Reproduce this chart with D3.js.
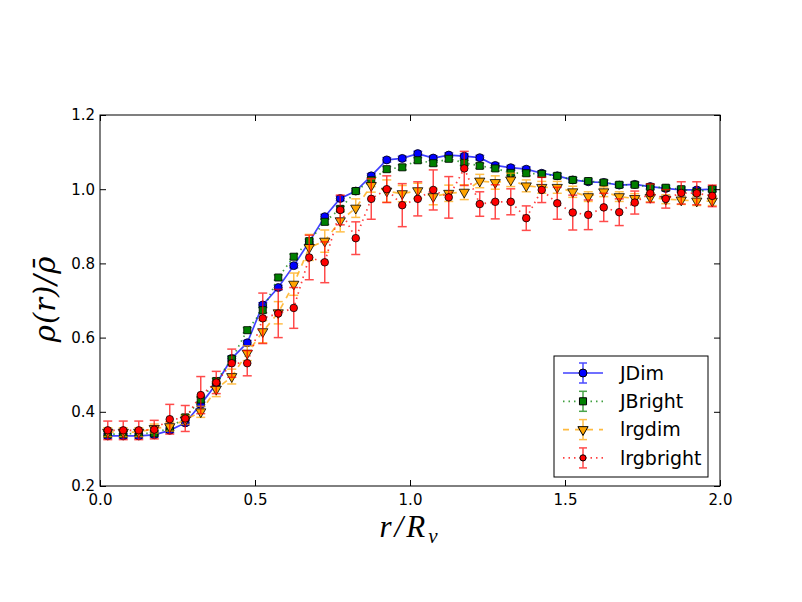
<!DOCTYPE html>
<html>
  <script src="https://cdnjs.cloudflare.com/ajax/libs/d3/7.8.5/d3.min.js"></script>
  <style>
    body { margin: 0; background: #fff; }
  </style>
  <body>
    <script>
var width = 802;
var height = 602;

// radial bins r/Rv
var rVals = [0.025, 0.075, 0.125, 0.175, 0.225, 0.275, 0.325, 0.375, 0.425, 0.475,
  0.525, 0.575, 0.625, 0.675, 0.725, 0.775, 0.825, 0.875, 0.925, 0.975,
  1.025, 1.075, 1.125, 1.175, 1.225, 1.275, 1.325, 1.375, 1.425, 1.475,
  1.525, 1.575, 1.625, 1.675, 1.725, 1.775, 1.825, 1.875, 1.925, 1.975];

var jDim = [0.335, 0.335, 0.335, 0.338, 0.350, 0.370, 0.420, 0.475, 0.544, 0.586,
  0.688, 0.735, 0.794, 0.858, 0.926, 0.975, 0.995, 1.036, 1.079, 1.083,
  1.096, 1.084, 1.092, 1.089, 1.085, 1.064, 1.058, 1.054, 1.043, 1.036,
  1.025, 1.020, 1.018, 1.011, 1.013, 1.007, 1.002, 0.998, 0.998, 1.000];
var jDimErr = [0.006, 0.006, 0.006, 0.006, 0.006, 0.006, 0.006, 0.006, 0.006, 0.006,
  0.006, 0.006, 0.006, 0.006, 0.006, 0.006, 0.006, 0.006, 0.006, 0.006,
  0.006, 0.006, 0.006, 0.006, 0.006, 0.006, 0.006, 0.006, 0.006, 0.006,
  0.006, 0.006, 0.006, 0.006, 0.006, 0.006, 0.006, 0.006, 0.006, 0.006];

var jBright = [0.340, 0.340, 0.342, 0.342, 0.357, 0.385, 0.433, 0.483, 0.542, 0.620,
  0.674, 0.762, 0.818, 0.860, 0.912, 0.947, 0.995, 1.024, 1.054, 1.059,
  1.078, 1.070, 1.082, 1.071, 1.063, 1.056, 1.044, 1.043, 1.041, 1.036,
  1.025, 1.022, 1.018, 1.012, 1.012, 1.006, 1.004, 1.000, 0.993, 1.000];
var jBrightErr = [0.007, 0.007, 0.007, 0.007, 0.007, 0.007, 0.007, 0.007, 0.007, 0.007,
  0.007, 0.007, 0.007, 0.007, 0.007, 0.007, 0.007, 0.007, 0.007, 0.007,
  0.007, 0.007, 0.007, 0.007, 0.007, 0.007, 0.007, 0.007, 0.007, 0.007,
  0.007, 0.007, 0.007, 0.007, 0.007, 0.007, 0.007, 0.007, 0.007, 0.007];

var lrgDim = [0.345, 0.345, 0.345, 0.355, 0.360, 0.378, 0.400, 0.461, 0.495, 0.558,
  0.616, 0.667, 0.744, 0.843, 0.860, 0.915, 0.949, 1.010, 0.995, 0.988,
  0.996, 0.980, 0.989, 0.992, 1.022, 1.018, 1.025, 1.009, 1.005, 1.005,
  0.993, 0.980, 0.993, 0.980, 0.975, 0.978, 0.973, 0.971, 0.968, 0.968];
var lrgDimErr = [0.012, 0.012, 0.012, 0.012, 0.012, 0.012, 0.015, 0.020, 0.020, 0.020,
  0.030, 0.030, 0.030, 0.035, 0.030, 0.030, 0.025, 0.018, 0.030, 0.022,
  0.020, 0.022, 0.022, 0.020, 0.018, 0.018, 0.018, 0.016, 0.016, 0.016,
  0.015, 0.013, 0.013, 0.013, 0.013, 0.012, 0.012, 0.012, 0.012, 0.012];

var lrgBright = [0.350, 0.350, 0.350, 0.352, 0.380, 0.382, 0.445, 0.479, 0.531, 0.531,
  0.652, 0.665, 0.680, 0.816, 0.803, 0.944, 0.868, 0.974, 1.000, 0.957,
  0.974, 0.998, 0.978, 1.056, 0.960, 0.966, 0.966, 0.922, 0.998, 0.962,
  0.937, 0.931, 0.951, 0.938, 0.964, 0.989, 0.974, 0.990, 0.989, 0.982];
var lrgBrightErr = [0.025, 0.025, 0.025, 0.025, 0.040, 0.035, 0.050, 0.030, 0.038, 0.034,
  0.068, 0.065, 0.055, 0.060, 0.055, 0.040, 0.044, 0.055, 0.036, 0.058,
  0.046, 0.054, 0.056, 0.046, 0.033, 0.046, 0.035, 0.033, 0.034, 0.043,
  0.047, 0.040, 0.038, 0.036, 0.031, 0.025, 0.025, 0.030, 0.031, 0.029];

var seriesNames = ['JDim', 'JBright', 'lrgdim', 'lrgbright'];

var xTicks = [0.0, 0.5, 1.0, 1.5, 2.0];
var yTicks = [0.2, 0.4, 0.6, 0.8, 1.0, 1.2];

var series = [
  {name: seriesNames[0], y: jDim, err: jDimErr, color: '#0000ff', dash: null, symbol: d3.symbolCircle, size: 50, rot: 0},
  {name: seriesNames[1], y: jBright, err: jBrightErr, color: '#008000', dash: '1.5,4', symbol: d3.symbolSquare, size: 50, rot: 0},
  {name: seriesNames[2], y: lrgDim, err: lrgDimErr, color: '#ffa500', dash: '6,6', symbol: d3.symbolTriangle, size: 45, rot: 180},
  {name: seriesNames[3], y: lrgBright, err: lrgBrightErr, color: '#ff0000', dash: '1.5,4', symbol: d3.symbolCircle, size: 45, rot: 0}
];

var svg = d3.select('body').append('svg')
  .attr('width', width)
  .attr('height', height)
  .style('font-family', 'DejaVu Sans, sans-serif');

svg.append('rect')
  .attr('width', width)
  .attr('height', height)
  .style('fill', '#fff');

var x = d3.scaleLinear().domain([0, 2]).range([100, 720]);
var y = d3.scaleLinear().domain([0.2, 1.2]).range([486, 115]);

var plot = svg.append('g');

series.forEach(function(s) {
  var pts = rVals.map(function(r, i) { return {r: r, v: s.y[i], e: s.err[i]}; });
  var g = plot.append('g');

  g.append('path')
    .datum(pts)
    .attr('d', d3.line().x(function(d) { return x(d.r); }).y(function(d) { return y(d.v); }))
    .style('fill', 'none')
    .style('stroke', s.color)
    .style('stroke-width', 1.7)
    .style('stroke-dasharray', s.dash)
    .style('opacity', 0.75);

  var bars = g.append('g').style('stroke', s.color).style('stroke-width', 1.5).style('opacity', 0.7);
  bars.selectAll('.eb').data(pts).enter().append('line')
    .attr('x1', function(d) { return x(d.r); })
    .attr('x2', function(d) { return x(d.r); })
    .attr('y1', function(d) { return y(d.v - d.e); })
    .attr('y2', function(d) { return y(d.v + d.e); });
  [-1, 1].forEach(function(sign) {
    bars.selectAll('.cap' + sign).data(pts).enter().append('line')
      .attr('x1', function(d) { return x(d.r) - 4.5; })
      .attr('x2', function(d) { return x(d.r) + 4.5; })
      .attr('y1', function(d) { return y(d.v + sign * d.e); })
      .attr('y2', function(d) { return y(d.v + sign * d.e); });
  });

  g.selectAll('.mk').data(pts).enter().append('path')
    .attr('d', d3.symbol().type(s.symbol).size(s.size))
    .attr('transform', function(d) {
      return 'translate(' + x(d.r) + ',' + y(d.v) + ') rotate(' + s.rot + ')';
    })
    .style('fill', s.color)
    .style('stroke', '#000')
    .style('stroke-width', 1)
    .style('stroke-opacity', 0.8);
});

// axes, ticks pointing inward on all four sides
function styleAxis(g) {
  g.select('.domain').remove();
  g.selectAll('.tick line').style('stroke', '#000');
  g.selectAll('.tick text').style('font-size', '15px').style('fill', '#000')
    .style('font-family', 'DejaVu Sans, sans-serif');
}

svg.append('g').attr('transform', 'translate(0,486)')
  .call(d3.axisBottom(x).tickValues(xTicks).tickFormat(d3.format('.1f'))
    .tickSizeInner(-6).tickSizeOuter(0).tickPadding(8))
  .call(styleAxis);
svg.append('g').attr('transform', 'translate(0,115)')
  .call(d3.axisTop(x).tickValues(xTicks).tickFormat('').tickSizeInner(-6).tickSizeOuter(0))
  .call(styleAxis);
svg.append('g').attr('transform', 'translate(100,0)')
  .call(d3.axisLeft(y).tickValues(yTicks).tickFormat(d3.format('.1f'))
    .tickSizeInner(-6).tickSizeOuter(0).tickPadding(5))
  .call(styleAxis);
svg.append('g').attr('transform', 'translate(720,0)')
  .call(d3.axisRight(y).tickValues(yTicks).tickFormat('').tickSizeInner(-6).tickSizeOuter(0))
  .call(styleAxis);

svg.append('rect')
  .attr('x', 100).attr('y', 115)
  .attr('width', 620).attr('height', 371)
  .style('fill', 'none')
  .style('stroke', '#000')
  .style('stroke-width', 1);

// axis labels
var xl = svg.append('text')
  .attr('x', 410).attr('y', 537)
  .attr('text-anchor', 'middle')
  .style('font-family', 'Liberation Serif, serif')
  .style('font-style', 'italic')
  .style('font-size', '31px')
  .style('letter-spacing', '3px');
xl.append('tspan').text('r/R');
xl.append('tspan').attr('dy', 6).style('font-size', '21px').text('v');

svg.append('text')
  .attr('transform', 'translate(55,299) rotate(-90)')
  .attr('text-anchor', 'middle')
  .style('font-family', 'DejaVu Serif, serif')
  .style('font-style', 'italic')
  .style('font-size', '29px')
  .style('letter-spacing', '1px')
  .text('\u03c1(r)/\u03c1\u0304');

// legend
var legend = svg.append('g').attr('transform', 'translate(554,356)');
legend.append('rect')
  .attr('width', 154).attr('height', 121)
  .style('fill', '#fff')
  .style('stroke', '#000')
  .style('stroke-width', 1);

series.forEach(function(s, i) {
  var cy = 17 + i * 28.3;
  var row = legend.append('g').attr('transform', 'translate(0,' + cy + ')');
  row.append('line')
    .attr('x1', 9).attr('x2', 49).attr('y1', 0).attr('y2', 0)
    .style('stroke', s.color).style('stroke-width', 1.7)
    .style('stroke-dasharray', s.dash).style('opacity', 0.75);
  var eb = row.append('g').style('stroke', s.color).style('stroke-width', 1.5).style('opacity', 0.7);
  eb.append('line').attr('x1', 29).attr('x2', 29).attr('y1', -10).attr('y2', 10);
  eb.append('line').attr('x1', 25).attr('x2', 33).attr('y1', -10).attr('y2', -10);
  eb.append('line').attr('x1', 25).attr('x2', 33).attr('y1', 10).attr('y2', 10);
  row.append('path')
    .attr('d', d3.symbol().type(s.symbol).size(i === 3 ? 30 : s.size))
    .attr('transform', 'translate(29,0) rotate(' + s.rot + ')')
    .style('fill', s.color)
    .style('stroke', '#000')
    .style('stroke-width', 1);
  row.append('text')
    .attr('x', 66).attr('y', 0).attr('dy', '0.36em')
    .style('font-size', '19px')
    .text(s.name);
});
    </script>
  </body>
</html>
